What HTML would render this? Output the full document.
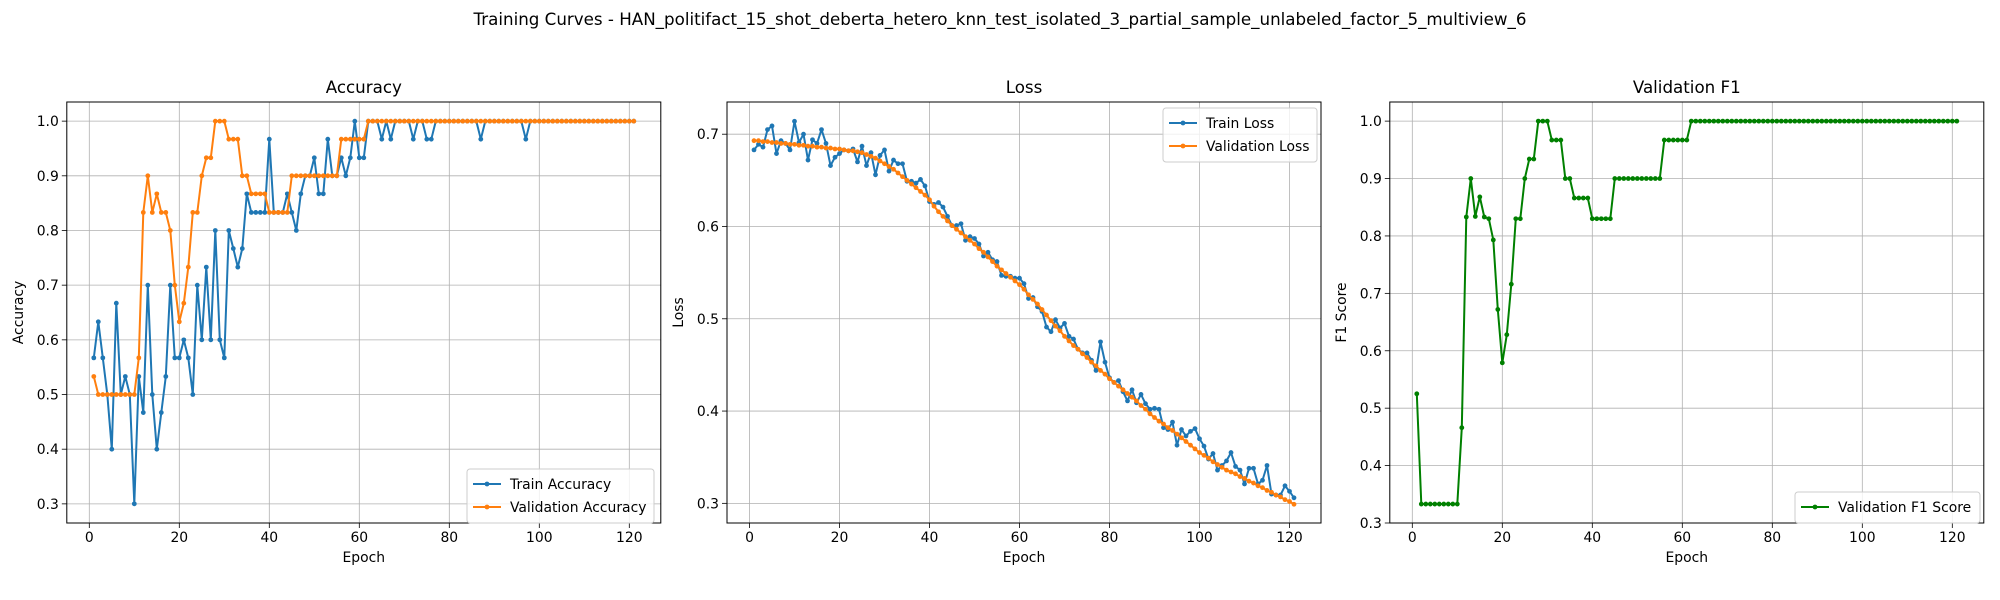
<!DOCTYPE html>
<html><head><meta charset="utf-8"><style>
html,body{margin:0;padding:0;background:#fff;}
svg{display:block;font-family:"DejaVu Sans","Liberation Sans",sans-serif;}
</style></head><body>
<svg id="fig" width="2000" height="600" viewBox="0 0 2000 600" xmlns="http://www.w3.org/2000/svg">
<rect width="2000" height="600" fill="#fff"/>
<text x="1000" y="25" text-anchor="middle" font-size="16.7">Training Curves - HAN_politifact_15_shot_deberta_hetero_knn_test_isolated_3_partial_sample_unlabeled_factor_5_multiview_6</text>
</svg>
<script>
const epochs=[];for(let i=1;i<=121;i++)epochs.push(i);
const xTicks=[0,20,40,60,80,100,120];
const accTicks=[0.3,0.4,0.5,0.6,0.7,0.8,0.9,1.0];
const lossTicks=[0.3,0.4,0.5,0.6,0.7];
const f1Ticks=[0.3,0.4,0.5,0.6,0.7,0.8,0.9,1.0];
const trainAcc=[.567,.633,.567,.5,.4,.667,.5,.533,.5,.3,
.533,.467,.7,.5,.4,.467,.533,.7,.567,.567,
.6,.567,.5,.7,.6,.733,.6,.8,.6,.567,
.8,.767,.733,.767,.867,.833,.833,.833,.833,.967,
.833,.833,.833,.867,.833,.8,.867,.9,.9,.933,
.867,.867,.967,.9,.9,.933,.9,.933,1,.933,
.933,1,1,1,.967,1,.967,1,1,1,
1,.967,1,1,.967,.967,1,1,1,1,
1,1,1,1,1,1,.967,1,1,1,
1,1,1,1,1,1,.967,1,1,1,
1,1,1,1,1,1,1,1,1,1,
1,1,1,1,1,1,1,1,1,1,1];
const valAcc=[.533,.5,.5,.5,.5,.5,.5,.5,.5,.5,
.567,.833,.9,.833,.867,.833,.833,.8,.7,.633,
.667,.733,.833,.833,.9,.933,.933,1,1,1,
.967,.967,.967,.9,.9,.867,.867,.867,.867,.833,
.833,.833,.833,.833,.9,.9,.9,.9,.9,.9,
.9,.9,.9,.9,.9,.967,.967,.967,.967,.967,
.967,1,1,1,1,1,1,1,1,1,
1,1,1,1,1,1,1,1,1,1,
1,1,1,1,1,1,1,1,1,1,
1,1,1,1,1,1,1,1,1,1,
1,1,1,1,1,1,1,1,1,1,
1,1,1,1,1,1,1,1,1,1,1];
const trainLoss=[0.683,0.689,0.686,0.705,0.709,0.679,0.693,0.690,0.683,0.714,
0.691,0.700,0.672,0.694,0.690,0.705,0.690,0.666,0.675,0.679,
0.683,0.682,0.684,0.670,0.687,0.666,0.680,0.656,0.677,0.683,
0.660,0.672,0.668,0.668,0.649,0.649,0.647,0.651,0.644,0.627,
0.624,0.626,0.621,0.611,0.601,0.601,0.603,0.585,0.589,0.587,
0.581,0.568,0.572,0.564,0.562,
0.547,0.546,0.546,0.544,0.544,0.538,0.522,0.523,0.513,0.508,
0.491,0.486,0.499,0.490,0.495,0.481,0.478,0.467,0.463,0.463,
0.455,0.444,0.475,0.453,0.436,0.431,0.433,0.421,0.411,0.423,
0.409,0.418,0.408,0.402,0.403,0.402,0.382,0.380,0.388,0.363,
0.380,0.373,0.378,0.381,0.370,0.362,0.348,0.354,0.336,0.341,
0.346,0.355,0.340,0.336,0.321,0.338,0.338,0.321,0.325,0.341,
0.310,0.309,0.309,0.319,0.313,0.306];
const valLoss=[0.693,0.693,0.692,0.692,0.691,0.691,0.690,0.690,0.689,0.689,
0.688,0.688,0.687,0.687,0.686,0.686,0.685,0.685,0.684,0.684,
0.683,0.682,0.682,0.681,0.680,0.678,0.676,0.674,0.671,0.668,
0.665,0.662,0.658,0.654,0.650,0.646,0.642,0.638,0.634,0.629,
0.622,0.616,0.611,0.606,0.601,0.597,0.593,0.589,0.585,0.581,
0.576,0.572,0.567,0.562,0.557,0.553,0.549,0.545,0.541,0.537,
0.532,0.526,0.521,0.516,0.510,0.504,0.498,0.492,0.487,0.481,
0.476,0.471,0.467,0.462,0.458,0.453,0.449,0.444,0.440,0.435,
0.431,0.427,0.423,0.419,0.415,0.411,0.406,0.402,0.397,0.393,
0.389,0.386,0.382,0.379,0.375,0.371,0.367,0.363,0.359,0.355,
0.352,0.349,0.345,0.342,0.339,0.336,0.334,0.332,0.329,0.327,
0.324,0.322,0.319,0.317,0.314,0.312,0.309,0.307,0.304,0.302,0.299];
const valF1=[.525,.333,.333,.333,.333,.333,.333,.333,.333,.333,
.466,.833,.9,.834,.868,.833,.830,.793,.672,.579,
.628,.716,.830,.830,.9,.934,.934,1,1,1,
.967,.967,.967,.9,.9,.866,.866,.866,.866,.830,
.830,.830,.830,.830,.9,.9,.9,.9,.9,.9,
.9,.9,.9,.9,.9,.967,.967,.967,.967,.967,
.967,1,1,1,1,1,1,1,1,1,
1,1,1,1,1,1,1,1,1,1,
1,1,1,1,1,1,1,1,1,1,
1,1,1,1,1,1,1,1,1,1,
1,1,1,1,1,1,1,1,1,1,
1,1,1,1,1,1,1,1,1,1,1];

const NS='http://www.w3.org/2000/svg';
const svg=document.getElementById('fig');
function mk(tag,attrs,parent){const e=document.createElementNS(NS,tag);for(const k in attrs)e.setAttribute(k,attrs[k]);(parent||svg).appendChild(e);return e;}
const TOP=102,BOT=523,W=594;

function panel(cfg){
  const g=mk('g',{});
  
  
  const L=cfg.left,R=L+W;
  const xs=v=>L+(v+5)/132*W;
  const ys=v=>BOT-(v-cfg.ymin)/(cfg.ymax-cfg.ymin)*(BOT-TOP);
  xTicks.forEach(t=>{const l=mk('line',{x1:xs(t),x2:xs(t),y1:TOP,y2:BOT,stroke:'#b0b0b0','stroke-width':0.8},g);
    
    });
  cfg.yticks.forEach(t=>{const l=mk('line',{x1:L,x2:R,y1:ys(t),y2:ys(t),stroke:'#b0b0b0','stroke-width':0.8},g);
    
    });
  cfg.series.forEach(s=>{
    const pts=epochs.map((e,i)=>xs(e).toFixed(2)+','+ys(s.data[i]).toFixed(2)).join(' ');
    const pl=mk('polyline',{points:pts,fill:'none',stroke:s.color,'stroke-width':2,'stroke-linejoin':'round'},g);
    
    
    epochs.forEach((e,i)=>{const c=mk('circle',{cx:xs(e),cy:ys(s.data[i]),r:2.4,fill:s.color},g);
      
      });
  });
  const fr=mk('rect',{x:L,y:TOP,width:W,height:BOT-TOP,fill:'none',stroke:'#000','stroke-width':1},g);
  
  
  xTicks.forEach(t=>{mk('line',{x1:xs(t),x2:xs(t),y1:BOT,y2:BOT+5,stroke:'#000','stroke-width':0.8},g);
    const tx=mk('text',{x:xs(t),y:BOT+19,'text-anchor':'middle','font-size':13.9},g);tx.textContent=t;
    
    });
  cfg.yticks.forEach(t=>{mk('line',{x1:L-5,x2:L,y1:ys(t),y2:ys(t),stroke:'#000','stroke-width':0.8},g);
    const tx=mk('text',{x:L-8,y:ys(t)+5,'text-anchor':'end','font-size':13.9},g);tx.textContent=t.toFixed(1);
    
    });
  const tt=mk('text',{x:(L+R)/2,y:TOP-9,'text-anchor':'middle','font-size':16.7},g);tt.textContent=cfg.title;
  
  
  const xl=mk('text',{x:(L+R)/2,y:BOT+39,'text-anchor':'middle','font-size':13.9},g);xl.textContent='Epoch';
  
  
  const yx=L-44,yy=(TOP+BOT)/2;
  const yl=mk('text',{x:yx,y:yy,'text-anchor':'middle','font-size':13.9,transform:`rotate(-90 ${yx} ${yy})`},g);yl.textContent=cfg.ylabel;
  
  
  const lg=cfg.legend;
  const lgG=mk('g',{},g);
  
  
  mk('rect',{x:lg.x,y:lg.y,width:lg.w,height:8+cfg.series.length*23,rx:3,fill:'#fff','fill-opacity':0.8,stroke:'#cccccc','stroke-width':1},lgG);
  cfg.series.forEach((s,i)=>{
    const cy=lg.y+15+i*23;
    mk('line',{x1:lg.x+6,x2:lg.x+34,y1:cy,y2:cy,stroke:s.color,'stroke-width':2},lgG);
    mk('circle',{cx:lg.x+20,cy:cy,r:2.4,fill:s.color},lgG);
    const t=mk('text',{x:lg.x+43,y:cy+5,'font-size':13.9},lgG);t.textContent=s.label;
    
    
  });
}
panel({name:'accuracy-panel',left:66.8,ymin:0.265,ymax:1.035,yticks:accTicks,title:'Accuracy',ylabel:'Accuracy',
  series:[{id:'train-accuracy',data:trainAcc,color:'#1f77b4',label:'Train Accuracy'},{id:'validation-accuracy',data:valAcc,color:'#ff7f0e',label:'Validation Accuracy'}],
  legend:{x:467,y:469,w:187}});
panel({name:'loss-panel',left:727,ymin:0.2787,ymax:0.7349,yticks:lossTicks,title:'Loss',ylabel:'Loss',
  series:[{id:'train-loss',data:trainLoss,color:'#1f77b4',label:'Train Loss'},{id:'validation-loss',data:valLoss,color:'#ff7f0e',label:'Validation Loss'}],
  legend:{x:1163,y:108,w:154}});
panel({name:'validation-f1-panel',left:1389.8,ymin:0.3,ymax:1.0333,yticks:f1Ticks,title:'Validation F1',ylabel:'F1 Score',
  series:[{id:'validation-f1',data:valF1,color:'#008000',label:'Validation F1 Score'}],
  legend:{x:1795,y:492,w:185}});
</script>
</body></html>
